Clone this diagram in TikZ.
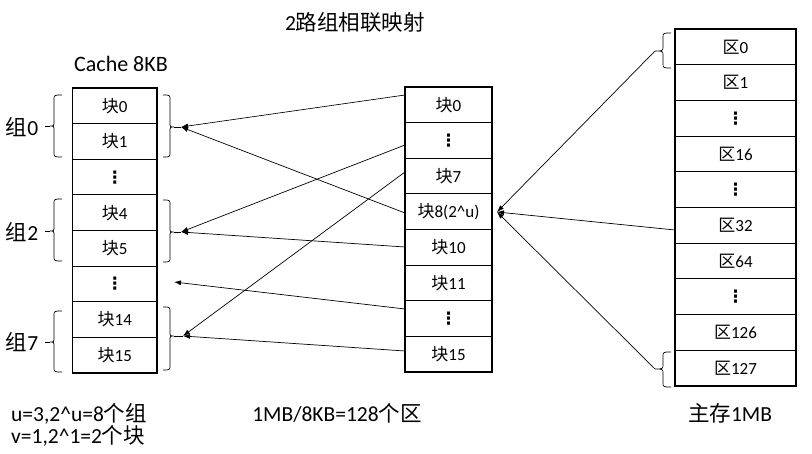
\documentclass[tikz,border=0pt]{standalone}
\usepackage{fontspec}
\setmainfont{Carlito}
\newfontfamily\cjk{Noto Sans CJK SC}
\newfontfamily\dejavu{DejaVu Sans}
\usetikzlibrary{arrows.meta}
\newcommand\kuai{{\cjk 块}}
\newcommand\qu{{\cjk 区}}
\newcommand\zu{{\cjk 组}}
\newcommand\vd{{\dejavu\bfseries ⋮}}
% generic brace: end x, spine x, tip x, top y, mid y, bottom y
\newcommand\mybrace[6]{%
  \draw[brc] (#1,#4) .. controls (#2,#4) .. (#2,#4+5) -- (#2,#5-5)
    .. controls (#2,#5) .. (#3,#5) .. controls (#2,#5) .. (#2,#5+5)
    -- (#2,#6-5) .. controls (#2,#6) .. (#1,#6);}
\begin{document}
\begin{tikzpicture}[x=1pt,y=-1pt,
  cell/.style={draw, line width=1.1pt, inner sep=0pt, outer sep=0pt,
    font=\fontsize{17}{19}\selectfont, minimum height=35.6pt},
  cc/.style={cell, minimum width=84.5pt},
  mc/.style={cell, minimum width=87pt},
  rc/.style={cell, minimum width=121pt, minimum height=35.7pt},
  arr/.style={line width=0.7pt, -{Latex[length=7pt,width=5pt]}},
  brc/.style={line width=0.7pt},
  lbl/.style={font=\fontsize{21.5}{21.5}\selectfont, inner sep=0pt}]
\useasboundingbox (0,0) rectangle (812,454);
\fill[white] (0,0) rectangle (812,454);

% title and captions
\node[lbl] (title) at (355,22) {2{\cjk 路组相联映射}};
\node[lbl, font=\fontsize{22}{22}\selectfont] (cachelbl) at (121,64) {Cache 8KB};
\node[lbl, anchor=base west] (uline) at (11,422) {u=3,2\^{}u=8{\cjk 个组}};
\node[lbl, anchor=base west] (vline) at (11,443) {v=1,2\^{}1=2{\cjk 个块}};
\node[lbl, anchor=base] (qline) at (337,422) {1MB/8KB=128{\cjk 个区}};
\node[lbl, anchor=base] (mline) at (730,422) {{\cjk 主存}1MB};

% cache column
\node[cc] (c1) at (114.75,105.8) {\kuai0};
\node[cc] (c2) at (114.75,141.4) {\kuai1};
\node[cc] (c3) at (114.75,177.1) {\vd};
\node[cc] (c4) at (114.75,212.7) {\kuai4};
\node[cc] (c5) at (114.75,248.3) {\kuai5};
\node[cc] (c6) at (114.75,283.9) {\vd};
\node[cc] (c7) at (114.75,319.6) {\kuai14};
\node[cc] (c8) at (114.75,355.2) {\kuai15};

% middle column
\node[mc] (m1) at (448.5,104.8) {\kuai0};
\node[mc] (m2) at (448.5,140.4) {\vd};
\node[mc] (m3) at (448.5,176.1) {\kuai7};
\node[mc] (m4) at (448.5,211.7) {\kuai8(2\^{}u)};
\node[mc] (m5) at (448.5,247.3) {\kuai10};
\node[mc] (m6) at (448.5,282.9) {\kuai11};
\node[mc] (m7) at (448.5,318.6) {\vd};
\node[mc] (m8) at (448.5,354.2) {\kuai15};

% main memory column
\node[rc] (r1) at (735.5,46.85) {\qu0};
\node[rc] (r2) at (735.5,82.55) {\qu1};
\node[rc] (r3) at (735.5,118.25) {\vd};
\node[rc] (r4) at (735.5,153.95) {\qu16};
\node[rc] (r5) at (735.5,189.65) {\vd};
\node[rc] (r6) at (735.5,225.35) {\qu32};
\node[rc] (r7) at (735.5,261.05) {\qu64};
\node[rc] (r8) at (735.5,296.75) {\vd};
\node[rc] (r9) at (735.5,332.45) {\qu126};
\node[rc] (r10) at (735.5,368.15) {\qu127};

% group labels
\node[lbl] (z0) at (22,127) {\zu0};
\node[lbl] (z2) at (22,232) {\zu2};
\node[lbl] (z7) at (22,342) {\zu7};

% left braces of cache
\mybrace{62}{54}{50}{95}{126}{157}
\mybrace{62}{54}{50}{199}{231}{261}
\mybrace{62}{54}{50}{311}{342}{372}
\draw[brc] (50,126) -- (45,126);
\draw[brc] (50,231) -- (45,231);
\draw[brc] (50,342) -- (45,342);

% right braces of cache
\coordinate (g0) at (181,127);
\coordinate (g2) at (181,232);
\coordinate (g7) at (183,336);
\coordinate (d1) at (174,282);
\mybrace{163}{170}{174}{95}{127}{157}
\mybrace{163}{170}{174}{200}{232}{262}
\mybrace{163}{170}{174}{307}{336}{370}
\draw[brc] (174,127) -- (g0);
\draw[brc] (174,232) -- (g2);
\draw[brc] (174,336) -- (g7);

% braces of main memory
\coordinate (b0) at (655,51);
\coordinate (b127) at (655,369);
\coordinate (hit) at (497,212);
\mybrace{671}{663}{655}{33}{51}{68}
\mybrace{671}{663}{655}{352}{369}{387}

% arrows to cache
\draw[arr] (m1.west |- 0,95) -- (g0);
\draw[arr] (m4.west |- 0,213) -- (g0);
\draw[arr] (m2.west |- 0,145) -- (g2);
\draw[arr] (m5.west |- 0,247) -- (g2);
\draw[arr] (m3.west |- 0,172) -- (g7);
\draw[arr] (m7.west |- 0,309) -- (d1);
\draw[arr] (m8.west |- 0,351) -- (g7);

% arrows to block 8
\draw[arr] (b0) -- (hit);
\draw[arr] (r6.west |- 0,230) -- (hit);
\draw[arr] (b127) -- (hit);
\end{tikzpicture}
\end{document}
